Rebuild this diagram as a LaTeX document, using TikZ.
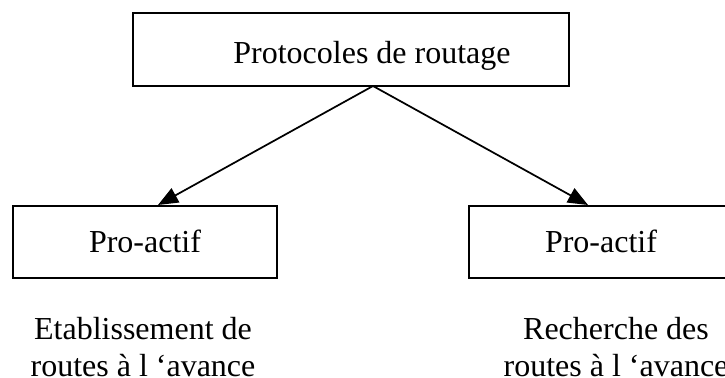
\documentclass[tikz,border=0pt]{standalone}
\usepackage{fontspec}
\setmainfont{Liberation Serif}
\usetikzlibrary{arrows.meta}
\begin{document}
\begin{tikzpicture}[x=0.75pt,y=-0.75pt,
  box/.style={draw=black,line width=1.5pt,fill=white,inner sep=0pt,
    font=\fontsize{24}{27.5}\selectfont},
  note/.style={align=center,inner sep=0pt,font=\fontsize{24}{27.5}\selectfont},
  link/.style={line width=1.3pt,-{Triangle[length=15pt,width=12pt]}}]
  \useasboundingbox (0,0) rectangle (725,378);
  % root of the classification, its title set a little right of centre
  \node[box,minimum width=327pt,minimum height=54.75pt,
    label={[font=\fontsize{24}{27.5}\selectfont,xshift=15.75pt,yshift=-4.5pt]center:Protocoles de routage}]
    (root) at (351,49.5) {};
  % the two families
  \node[box,minimum width=198pt,minimum height=54pt] (left) at (145,241.5) {Pro-actif};
  \node[box,minimum width=198pt,minimum height=54pt] (right) at (601,241.5) {Pro-actif};
  % where the two connectors leave the root box
  \coordinate (apex) at (373,86);
  \coordinate (ltip) at (158,205);
  \coordinate (rtip) at (588,205);
  \draw[link] (apex) -- (ltip);
  \draw[link] (apex) -- (rtip);
  % descriptions under each family
  \node[note,anchor=base] (ldesc) at (143,376) {Etablissement de\\routes à l ‘avance};
  \node[note,anchor=base] (rdesc) at (616,376) {Recherche des\\routes à l ‘avance};
\end{tikzpicture}
\end{document}
